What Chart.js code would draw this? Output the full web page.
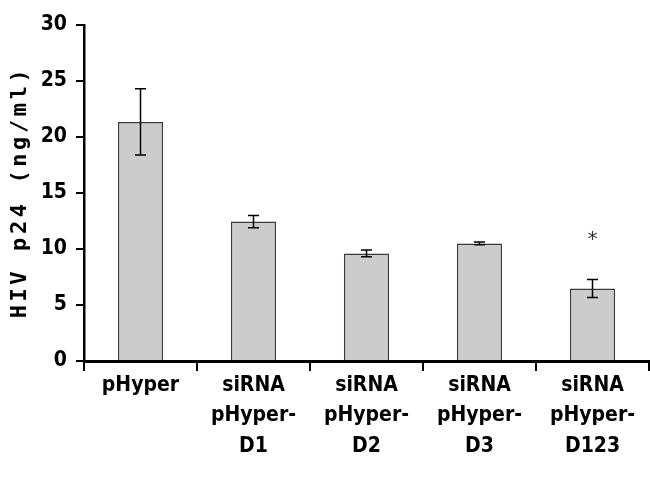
<!DOCTYPE html>
<html>
<head>
<meta charset="utf-8">
<script src="https://cdn.jsdelivr.net/npm/chart.js@4"></script>
<style>
  html, body { margin: 0; padding: 0; background: #fff; }
  #wrap { width: 650px; height: 480px; }
</style>
</head>
<body>
<div id="wrap"><canvas id="p24Chart"></canvas></div>
<script>
// categories and values
const categories = [
  'pHyper',
  ['siRNA', 'pHyper-', 'D1'],
  ['siRNA', 'pHyper-', 'D2'],
  ['siRNA', 'pHyper-', 'D3'],
  ['siRNA', 'pHyper-', 'D123']
];
const p24Mean = [21.35, 12.45, 9.6, 10.5, 6.47];
const p24Err  = [2.95, 0.55, 0.3, 0.12, 0.8];
const sigMarks = ['', '', '', '', '*'];
const yTicks = [0, 5, 10, 15, 20, 25, 30];
const yTitle = 'HIV p24 (ng/ml)';

const barGrey = '#cccccc';
const ink = '#000000';

// error bars + asterisk, drawn from the data through the scales
const errorBarPlugin = {
  id: 'errorBars',
  afterDatasetsDraw(chart) {
    const ctx = chart.ctx;
    const x = chart.scales.x, y = chart.scales.y;
    ctx.save();
    ctx.strokeStyle = ink;
    ctx.lineWidth = 1.5;
    p24Mean.forEach((v, i) => {
      const cx = x.getPixelForValue(i);
      const top = y.getPixelForValue(v + p24Err[i]);
      const bot = y.getPixelForValue(v - p24Err[i]);
      ctx.beginPath();
      ctx.moveTo(cx, top); ctx.lineTo(cx, bot);
      ctx.moveTo(cx - 5.5, top); ctx.lineTo(cx + 5.5, top);
      ctx.moveTo(cx - 5.5, bot); ctx.lineTo(cx + 5.5, bot);
      ctx.stroke();
      if (sigMarks[i]) {
        ctx.fillStyle = '#333';
        ctx.font = '20px "DejaVu Sans"';
        ctx.textAlign = 'center';
        ctx.textBaseline = 'middle';
        ctx.fillText(sigMarks[i], cx, top - 40);
      }
    });
    ctx.restore();
  }
};

// y title with wide letter spacing, like the original
const yTitlePlugin = {
  id: 'yTitle',
  afterDraw(chart) {
    const ctx = chart.ctx;
    const area = chart.chartArea;
    ctx.save();
    ctx.translate(20, (area.top + area.bottom) / 2);
    ctx.rotate(-Math.PI / 2);
    ctx.fillStyle = ink;
    ctx.font = 'bold 22px "DejaVu Sans Mono"';
    ctx.letterSpacing = '3.6px';
    ctx.textAlign = 'center';
    ctx.textBaseline = 'middle';
    ctx.fillText(yTitle, 1, 0);
    ctx.restore();
  }
};

new Chart(document.getElementById('p24Chart'), {
  type: 'bar',
  data: {
    labels: categories,
    datasets: [{
      data: p24Mean,
      backgroundColor: barGrey,
      borderColor: '#3a3a3a',
      borderWidth: 1.5,
      barPercentage: 0.4,
      categoryPercentage: 1.0
    }]
  },
  options: {
    responsive: true,
    maintainAspectRatio: false,
    animation: false,
    layout: { padding: { top: 25, right: 1, left: 6, bottom: 0 } },
    plugins: { legend: { display: false }, tooltip: { enabled: false } },
    scales: {
      y: {
        min: 0, max: 30,
        afterBuildTicks: s => { s.ticks = yTicks.map(v => ({ value: v })); },
        afterFit: s => { s.width = 78; },
        border: { color: ink, width: 2.5 },
        grid: { drawOnChartArea: false, color: ink, tickLength: 8, lineWidth: 2 },
        ticks: {
          color: ink, padding: 9,
          font: { family: '"DejaVu Sans Condensed", "DejaVu Sans"', weight: 'bold', size: 21 }
        }
      },
      x: {
        afterFit: s => { s.height = 119; },
        border: { color: ink, width: 3 },
        grid: { drawOnChartArea: false, offset: true, color: ink, tickLength: 10, lineWidth: 2 },
        ticks: {
          color: ink, padding: 0, maxRotation: 0, minRotation: 0,
          font: { family: '"DejaVu Sans Condensed", "DejaVu Sans"', weight: 'bold', size: 21, lineHeight: 1.43 }
        }
      }
    }
  },
  plugins: [errorBarPlugin, yTitlePlugin]
});
</script>
</body>
</html>
